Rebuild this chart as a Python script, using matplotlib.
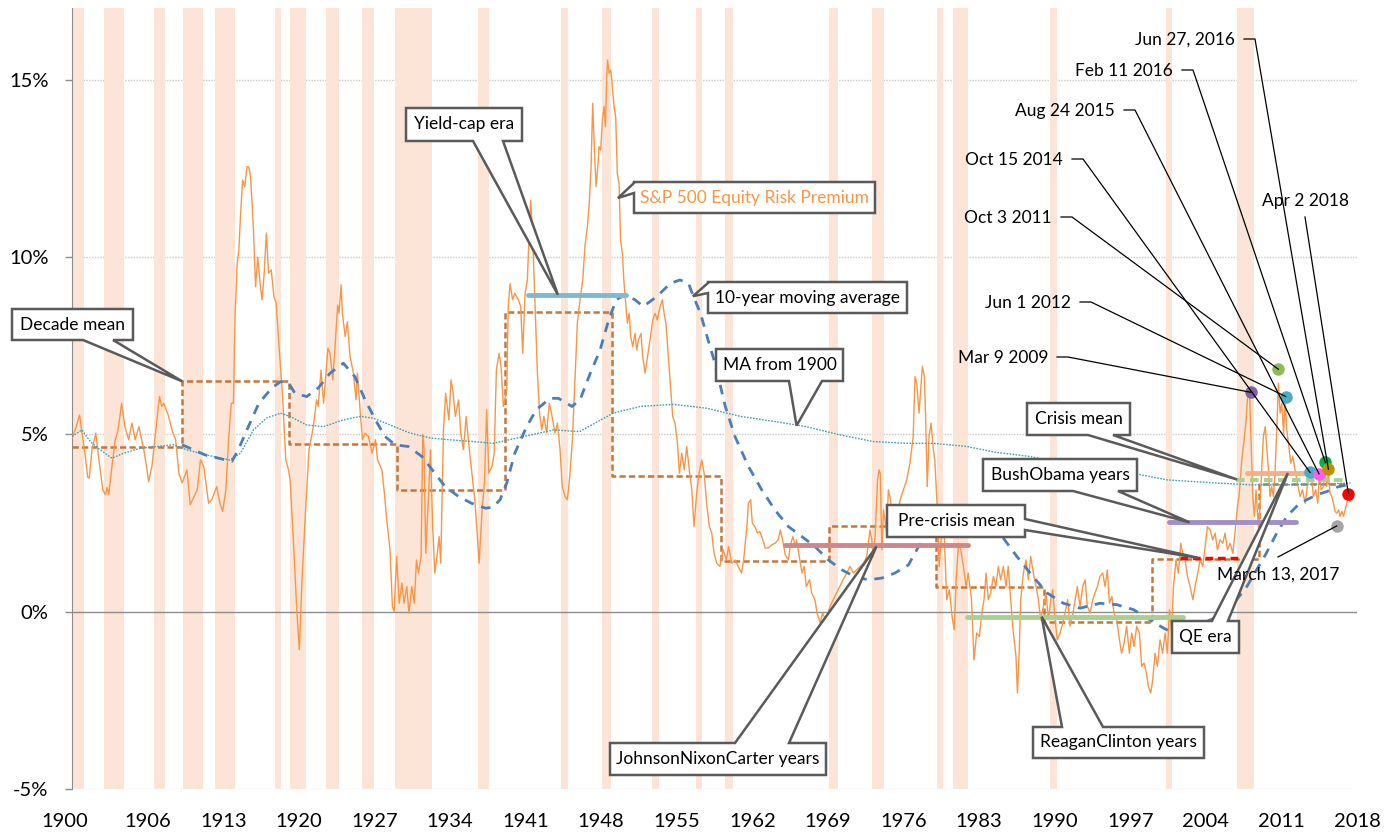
import matplotlib
matplotlib.use('Agg')
import matplotlib.pyplot as plt
from matplotlib.patches import Polygon
from matplotlib.lines import Line2D
from matplotlib.transforms import Affine2D, ScaledTranslation

plt.rcParams['font.family'] = ['Lato', 'DejaVu Sans']

# ---------------- data ----------------
erp_years = [
    1900.0, 1900.4, 1900.7, 1900.9, 1901.2, 1901.45, 1901.6, 1901.85, 1902.2, 1902.5, 1902.85, 1903.1,
    1903.25, 1903.4, 1903.7, 1904.0, 1904.25, 1904.6, 1904.9, 1905.25, 1905.55, 1905.85, 1906.2, 1906.65,
    1906.9, 1907.1, 1907.4, 1907.7, 1908.1, 1908.3, 1908.5, 1908.95, 1909.25, 1909.6, 1909.9, 1910.2,
    1910.65, 1910.95, 1911.3, 1911.6, 1911.9, 1912.2, 1912.65, 1912.95, 1913.4, 1913.7, 1913.95, 1914.25,
    1914.5, 1914.75, 1914.95, 1915.1, 1915.3, 1915.45, 1915.6, 1915.8, 1916.0, 1916.2, 1916.35, 1916.5,
    1916.7, 1916.8, 1917.0, 1917.2, 1917.45, 1917.6, 1917.8, 1918.0, 1918.2, 1918.45, 1918.7, 1918.9,
    1919.05, 1919.3, 1919.5, 1919.8, 1920.05, 1920.2, 1920.5, 1920.8, 1921.05, 1921.3, 1921.65, 1921.95,
    1922.35, 1922.65, 1922.8, 1923.06, 1923.3, 1923.7, 1923.9, 1924.15, 1924.36, 1924.6, 1924.73, 1924.92,
    1925.04, 1925.3, 1925.5, 1925.75, 1926.06, 1926.3, 1926.43, 1926.7, 1926.9, 1927.14, 1927.45, 1927.8,
    1928.1, 1928.3, 1928.7, 1928.93, 1929.15, 1929.45, 1929.67, 1929.83, 1930.07, 1930.3, 1930.55, 1930.75,
    1931.0, 1931.2, 1931.46, 1931.7, 1931.9, 1932.08, 1932.33, 1932.48, 1932.6, 1932.76, 1933.0, 1933.2,
    1933.4, 1933.6, 1933.8, 1934.0, 1934.15, 1934.4, 1934.6, 1934.9, 1935.1, 1935.3, 1935.5, 1935.8,
    1936.0, 1936.25, 1936.5, 1936.7, 1937.0, 1937.3, 1937.5, 1937.7, 1938.0, 1938.2, 1938.4, 1938.6,
    1938.9, 1939.1, 1939.3, 1939.55, 1939.73, 1939.95, 1940.26, 1940.4, 1940.57, 1940.8, 1941.0, 1941.34,
    1941.55, 1941.74, 1941.96, 1942.17, 1942.36, 1942.48, 1942.67, 1942.88, 1943.1, 1943.3, 1943.5, 1943.7,
    1943.96, 1944.2, 1944.4, 1944.73, 1944.95, 1945.2, 1945.4, 1945.66, 1945.88, 1946.12, 1946.34, 1946.6,
    1946.8, 1947.05, 1947.3, 1947.5, 1947.73, 1947.9, 1948.07, 1948.22, 1948.38, 1948.53, 1948.7, 1948.81,
    1948.96, 1949.12, 1949.27, 1949.4, 1949.52, 1949.6, 1949.74, 1949.9, 1950.04, 1950.2, 1950.35, 1950.5,
    1950.66, 1950.8, 1950.97, 1951.1, 1951.28, 1951.43, 1951.6, 1951.74, 1951.93, 1952.14, 1952.3, 1952.45,
    1952.7, 1952.85, 1953.07, 1953.3, 1953.53, 1953.78, 1954.0, 1954.2, 1954.46, 1954.68, 1954.83, 1955.0,
    1955.23, 1955.45, 1955.63, 1955.85, 1956.07, 1956.25, 1956.47, 1956.7, 1956.93, 1957.2, 1957.4, 1957.6,
    1957.85, 1958.07, 1958.32, 1958.54, 1958.8, 1959.03, 1959.25, 1959.46, 1959.7, 1960.0, 1960.3, 1960.6,
    1960.8, 1961.1, 1961.4, 1961.7, 1962.0, 1962.2, 1962.5, 1962.64, 1962.85, 1963.0, 1963.25, 1963.47,
    1963.7, 1963.97, 1964.2, 1964.5, 1964.8, 1965.1, 1965.4, 1965.6, 1965.8, 1966.05, 1966.35, 1966.5,
    1966.75, 1967.0, 1967.1, 1967.4, 1967.6, 1967.8, 1968.0, 1968.3, 1968.5, 1968.8, 1969.0, 1969.3,
    1969.5, 1969.8, 1970.0, 1970.2, 1970.5, 1970.8, 1971.1, 1971.4, 1971.75, 1972.05, 1972.36, 1972.66,
    1972.98, 1973.3, 1973.6, 1973.9, 1974.06, 1974.2, 1974.37, 1974.6, 1974.74, 1974.85, 1975.0, 1975.15,
    1975.45, 1975.6, 1975.8, 1976.07, 1976.4, 1976.7, 1977.0, 1977.3, 1977.6, 1977.9, 1978.07, 1978.23,
    1978.44, 1978.6, 1978.75, 1978.94, 1979.05, 1979.2, 1979.37, 1979.55, 1979.77, 1979.9, 1980.14, 1980.3,
    1980.54, 1980.7, 1980.85, 1981.0, 1981.25, 1981.5, 1981.7, 1981.9, 1982.1, 1982.3, 1982.55, 1982.8,
    1983.0, 1983.3, 1983.53, 1983.78, 1984.03, 1984.25, 1984.46, 1984.65, 1984.86, 1985.08, 1985.33, 1985.55,
    1985.79, 1986.0, 1986.25, 1986.5, 1986.7, 1986.93, 1987.18, 1987.42, 1987.55, 1987.7, 1987.86, 1988.1,
    1988.35, 1988.57, 1988.78, 1989.03, 1989.28, 1989.5, 1989.7, 1989.96, 1990.2, 1990.42, 1990.64, 1990.82,
    1991.04, 1991.25, 1991.5, 1991.75, 1991.96, 1992.2, 1992.43, 1992.7, 1992.9, 1993.1, 1993.35, 1993.6,
    1993.82, 1994.03, 1994.28, 1994.53, 1994.74, 1994.96, 1995.2, 1995.45, 1995.67, 1995.88, 1996.07, 1996.3,
    1996.5, 1996.75, 1997.0, 1997.2, 1997.43, 1997.67, 1997.92, 1998.14, 1998.35, 1998.6, 1998.85, 1999.06,
    1999.28, 1999.5, 1999.68, 1999.9, 2000.08, 2000.3, 2000.52, 2000.76, 2001.0, 2001.23, 2001.44, 2001.63,
    2001.84, 2002.0, 2002.24, 2002.46, 2002.68, 2002.86, 2003.08, 2003.3, 2003.54, 2003.8, 2004.0, 2004.25,
    2004.47, 2004.72, 2004.93, 2005.15, 2005.4, 2005.64, 2005.86, 2006.07, 2006.32, 2006.57, 2006.78, 2007.0,
    2007.25, 2007.5, 2007.7, 2007.93, 2008.1, 2008.33, 2008.55, 2008.73, 2008.85, 2008.94, 2009.04, 2009.16,
    2009.35, 2009.5, 2009.65, 2009.8, 2009.9, 2010.1, 2010.33, 2010.5, 2010.64, 2010.8, 2010.95, 2011.1,
    2011.26, 2011.42, 2011.57, 2011.72, 2011.88, 2012.03, 2012.2, 2012.34, 2012.5, 2012.65, 2012.86, 2013.05,
    2013.27, 2013.48, 2013.73, 2013.95, 2014.2, 2014.4, 2014.66, 2014.8, 2014.96, 2015.18, 2015.37, 2015.52,
    2015.68, 2015.9, 2016.05, 2016.2, 2016.35, 2016.5, 2016.66, 2016.82, 2016.97, 2017.13, 2017.3, 2017.44,
    2017.6, 2017.74, 2017.9, 2018.05, 2018.2, 2018.36, 2018.6,
]
erp_values = [
    4.89, 5.23, 5.55, 5.1, 4.47, 3.8, 3.77, 4.57, 5.04, 4.28, 3.44, 3.3,
    3.5, 3.3, 4.1, 4.85, 5.1, 5.88, 5.22, 4.85, 5.32, 4.85, 5.22, 4.57,
    4.1, 3.67, 4.1, 4.94, 6.07, 5.79, 5.88, 5.51, 5.13, 4.85, 3.91, 3.63,
    4.0, 3.02, 3.25, 3.44, 4.28, 4.1, 3.06, 3.16, 3.53, 3.06, 2.83, 3.44,
    4.85, 5.88, 5.88, 8.33, 9.83, 10.2, 11.14, 12.18, 11.99, 12.55, 12.55, 12.37,
    11.43, 10.77, 9.17, 10.0, 9.17, 8.8, 9.55, 10.68, 9.55, 9.64, 8.89, 8.7,
    8.04, 6.92, 6.07, 4.28, 4.0, 3.72, 2.03, 0.15, -1.07, 0.9, 2.97, 4.57,
    5.22, 5.98, 5.79, 6.82, 5.88, 7.43, 7.29, 6.54, 7.48, 8.65, 8.42, 9.22,
    8.42, 7.76, 8.18, 7.2, 6.73, 5.98, 6.73, 5.6, 4.85, 5.04, 4.94, 4.47,
    4.85, 4.28, 4.0, 3.34, 2.59, 1.75, 0.15, 0.0, 1.56, 0.24, 0.81, 0.24,
    0.71, -0.04, 0.71, 0.24, 1.46, 1.09, 1.56, 5.0, 4.6, 1.65, 3.16, 4.57,
    2.4, 1.09, 1.56, 2.12, 1.37, 5.13, 6.16, 5.41, 6.54, 6.16, 5.51, 5.98,
    5.04, 4.57, 5.51, 4.85, 4.0, 3.16, 2.31, 1.37, 2.97, 3.63, 5.7, 3.91,
    4.1, 4.47, 6.82, 7.29, 6.92, 5.79, 6.26, 8.61, 9.26, 8.8, 8.98, 8.8,
    8.61, 7.29, 8.98, 9.36, 10.86, 11.61, 10.49, 8.61, 6.73, 5.6, 5.13, 5.51,
    5.04, 5.88, 5.6, 5.04, 5.32, 4.57, 3.53, 3.25, 3.16, 3.91, 4.85, 6.73,
    8.14, 8.8, 9.36, 10.3, 10.86, 11.52, 12.55, 14.34, 13.02, 11.99, 12.55, 13.12,
    13.02, 13.87, 14.25, 13.68, 15.09, 15.56, 15.19, 15.28, 14.81, 14.25, 13.96, 12.37,
    12.08, 10.49, 10.11, 9.36, 8.7, 8.14, 8.42, 7.76, 7.48, 7.85, 7.38, 7.67,
    7.85, 7.2, 6.73, 7.2, 7.67, 8.23, 8.42, 8.23, 8.61, 8.8, 8.42, 8.14,
    7.2, 6.26, 5.51, 5.32, 4.75, 3.91, 4.47, 4.0, 4.66, 3.91, 3.44, 2.4,
    3.34, 3.91, 4.28, 3.91, 2.97, 2.4, 2.21, 1.65, 1.37, 1.28, 1.75, 1.46,
    1.84, 1.37, 1.46, 1.28, 1.09, 1.46, 2.4, 3.06, 3.16, 2.5, 2.4, 2.22,
    2.26, 2.03, 1.8, 1.8, 1.89, 1.93, 2.03, 2.31, 2.03, 1.61, 1.46, 1.84,
    2.12, 1.84, 2.03, 1.46, 1.09, 1.28, 0.71, 0.9, 0.53, 0.34, -0.04, -0.32,
    -0.04, -0.23, -0.04, 0.15, 0.34, 0.53, 0.71, 0.9, 1.09, 1.28, 1.09, 1.18,
    1.28, 1.37, 1.56, 2.31, 2.03, 1.56, 2.12, 3.72, 4.0, 3.9, 1.75, 2.87,
    2.22, 3.44, 3.16, 2.22, 2.69, 3.16, 3.44, 3.72, 4.19, 4.94, 6.63, 6.45,
    5.6, 6.26, 6.92, 6.63, 5.51, 3.53, 4.94, 5.32, 4.57, 4.28, 2.87, 1.28,
    2.22, 2.87, 1.56, 0.34, 0.62, -0.13, -0.51, 1.0, 1.93, 1.75, 1.28, 0.71,
    1.09, 0.34, -1.36, -0.6, -0.7, -0.04, 0.34, 1.09, 0.34, 0.53, 1.0, 0.71,
    1.28, 0.9, 1.28, 0.71, 1.28, 0.34, -0.6, -1.26, -2.29, -1.26, 0.34, 1.09,
    1.46, 0.9, 1.56, 1.09, 0.71, 0.34, -0.23, 0.15, 0.53, -0.23, 0.34, 0.62,
    -0.23, -0.79, -0.6, -0.32, -0.04, 0.34, -0.41, -0.04, 0.34, 0.71, 0.15, 0.71,
    0.9, 0.15, -0.04, 0.34, 0.53, 0.71, 1.0, 1.09, 0.71, 1.18, 0.24, 0.43,
    -0.04, -0.23, -0.79, -1.17, -0.88, -0.41, -1.17, -0.6, -0.98, -0.41, -0.6, -1.54,
    -1.45, -1.73, -2.11, -2.29, -1.92, -1.17, -1.54, -0.79, -1.17, -0.6, -1.17, 0.06,
    -0.6, 0.71, 1.46, 1.09, 1.93, 1.65, 1.46, 1.0, 0.71, 0.34, 0.71, 1.09,
    1.46, 1.28, 1.84, 2.4, 2.31, 2.03, 2.22, 1.75, 2.03, 1.93, 2.22, 1.75,
    1.93, 1.65, 2.22, 2.97, 3.34, 4.28, 4.85, 5.41, 5.98, 6.16, 6.26, 5.13,
    3.25, 2.69, 3.44, 2.69, 2.31, 3.53, 4.94, 5.22, 4.66, 4.0, 3.25, 3.53,
    3.25, 4.0, 5.13, 6.45, 5.6, 5.88, 5.03, 5.98, 5.13, 4.75, 4.19, 4.38,
    4.0, 3.63, 3.25, 3.44, 3.06, 3.53, 4.0, 3.81, 3.25, 3.44, 3.06, 3.91,
    3.44, 3.53, 4.0, 3.53, 3.91, 3.34, 3.25, 3.06, 2.83, 2.78, 2.87, 2.69,
    2.83, 2.69, 2.87, 3.06, 3.25, 3.11, 3.2,
]

ma10_years = [
    1910.2, 1912.35, 1914.8, 1915.4, 1916.2, 1917.3, 1918.5, 1919.3, 1920.07, 1920.65, 1921.74, 1922.8,
    1923.9, 1925.13, 1926.2, 1927.14, 1928.1, 1929.0, 1929.92, 1931.15, 1932.4, 1933.6, 1934.55, 1935.8,
    1937.0, 1938.3, 1939.0, 1939.64, 1940.26, 1941.0, 1942.1, 1943.0, 1944.27, 1945.04, 1946.3, 1947.05,
    1948.0, 1948.9, 1949.7, 1950.4, 1951.2, 1952.14, 1952.9, 1954.15, 1955.4, 1956.3, 1957.1, 1957.55,
    1958.2, 1958.9, 1959.55, 1960.5, 1961.4, 1962.64, 1963.87, 1965.1, 1966.35, 1967.6, 1968.8, 1970.05,
    1971.3, 1972.5, 1973.75, 1975.0, 1976.2, 1977.46, 1978.4, 1979.5, 1980.6, 1981.8, 1983.2, 1984.6,
    1985.9, 1987.5, 1989.0, 1990.3, 1991.8, 1993.35, 1995.2, 1996.75, 1998.3, 1999.84, 2001.07, 2002.0,
    2003.23, 2005.4, 2006.9, 2007.85, 2008.8, 2009.7, 2010.6, 2011.57, 2012.5, 2013.4, 2014.35, 2015.3,
    2016.2, 2017.1, 2018.05,
]
ma10_values = [
    4.71, 4.42, 4.24, 4.57, 5.13, 5.88, 6.31, 6.49, 6.45, 6.16, 6.07, 6.31,
    6.73, 7.01, 6.63, 5.98, 5.41, 4.94, 4.71, 4.66, 4.38, 3.91, 3.53, 3.25,
    3.06, 2.92, 2.95, 3.16, 3.63, 4.47, 5.22, 5.7, 6.02, 6.02, 5.79, 5.98,
    6.73, 7.38, 8.23, 8.8, 8.94, 8.8, 8.61, 8.89, 9.26, 9.36, 9.26, 8.89,
    8.42, 7.67, 7.0, 5.79, 4.94, 4.1, 3.44, 2.87, 2.4, 2.12, 1.84, 1.46,
    1.18, 0.99, 0.9, 0.95, 1.09, 1.32, 1.84, 2.3, 2.5, 2.55, 2.5, 2.4,
    2.22, 1.56, 0.99, 0.53, 0.24, 0.1, 0.24, 0.2, 0.06, -0.23, -0.46, -0.6,
    -0.51, -0.23, -0.04, 0.34, 0.71, 1.18, 1.65, 2.22, 2.69, 2.97, 3.16, 3.3,
    3.39, 3.51, 3.58,
]

ma1900_years = [
    1900.0, 1900.9, 1901.7, 1902.6, 1903.7, 1904.75, 1906.3, 1907.84, 1909.4, 1910.6, 1912.5, 1914.6,
    1915.6, 1916.8, 1918.0, 1919.3, 1920.2, 1921.7, 1923.3, 1925.1, 1926.7, 1927.9, 1929.45, 1931.3,
    1933.2, 1935.0, 1937.2, 1939.0, 1941.8, 1944.6, 1947.0, 1950.1, 1952.6, 1955.7, 1958.8, 1961.9,
    1965.0, 1968.0, 1971.1, 1974.2, 1977.3, 1979.8, 1982.9, 1985.5, 1988.7, 1991.5, 1994.5, 1998.7,
    2001.4, 2006.0, 2009.1, 2012.2, 2015.3, 2018.4,
]
ma1900_values = [
    4.94, 5.13, 4.8, 4.57, 4.33, 4.47, 4.61, 4.66, 4.71, 4.57, 4.42, 4.28,
    4.47, 5.13, 5.46, 5.6, 5.51, 5.27, 5.22, 5.41, 5.51, 5.46, 5.27, 5.04,
    4.9, 4.85, 4.8, 4.75, 4.94, 5.13, 5.08, 5.6, 5.79, 5.85, 5.74, 5.51,
    5.37, 5.22, 4.99, 4.8, 4.75, 4.75, 4.66, 4.5, 4.38, 4.2, 4.05, 3.88,
    3.72, 3.63, 3.58, 3.58, 3.6, 3.63,
]

decade_edges = [1900, 1910.2, 1920.1, 1930.1, 1940.1, 1950.0, 1960.1, 1970.1, 1980.0, 1990.0, 2000.0, 2009.9, 2018.2]
decade_means = [4.65, 6.5, 4.74, 3.42, 8.46, 3.84, 1.42, 2.43, 0.71, -0.3, 1.5, 3.6]

recession_start = [1899.5, 1903.0, 1907.6, 1910.3, 1913.2, 1918.8, 1920.2, 1923.5, 1926.9, 1929.9, 1937.6, 1945.3,
                   1949.1, 1953.7, 1957.8, 1960.5, 1970.1, 1974.1, 1980.1, 1981.6, 1990.6, 2001.3, 2007.9]
recession_end = [1901.1, 1904.8, 1908.6, 1912.1, 1915.1, 1919.4, 1921.7, 1924.7, 1928.0, 1933.3, 1938.6, 1945.9,
                 1949.9, 1954.4, 1958.3, 1961.2, 1970.9, 1975.2, 1980.7, 1983.0, 1991.2, 2001.9, 2009.5]

period_names = ['Yield-cap era', 'JohnsonNixonCarter years', 'ReaganClinton years', 'Pre-crisis mean',
                'BushObama years', 'QE era', 'Crisis mean']
period_start = [1942.2, 1966.0, 1982.9, 2002.6, 2001.6, 2008.8, 2007.8]
period_end = [1951.3, 1983.0, 2002.9, 2008.1, 2013.35, 2014.4, 2018.2]
period_value = [8.94, 1.89, -0.14, 1.52, 2.52, 3.91, 3.73]

event_labels = ['Mar 9 2009', 'Oct 3 2011', 'Jun 1 2012', 'Oct 15 2014', 'Aug 24 2015',
                'Feb 11 2016', 'Jun 27, 2016', 'March 13, 2017', 'Apr 2 2018']
event_years = [2009.16, 2011.72, 2012.4, 2014.65, 2015.48, 2016.07, 2016.35, 2017.12, 2018.2]
event_values = [6.19, 6.84, 6.07, 3.93, 3.89, 4.21, 4.02, 2.42, 3.33]

x_ticks = [1900 + 7 * k for k in range(18)]
x_tick_labels = ['1900', '1906', '1913', '1920', '1927', '1934', '1941', '1948', '1955', '1962',
                 '1969', '1976', '1983', '1990', '1997', '2004', '2011', '2018']
y_ticks = [-5, 0, 5, 10, 15]
y_tick_labels = ['-5%', '0%', '5%', '10%', '15%']

# ---------------- styles ----------------
period_colors = ['#7DBAD2', '#D0868A', '#A9D08E', '#FF0000', '#A190C4', '#F6B088', '#A9D08E']
period_styles = ['-', '-', '-', (0, (2.2, 1.4)), '-', '-', (0, (2.2, 1.4))]
period_lw = [3.5, 3.5, 3.5, 2.5, 3.5, 3.5, 2.8]
event_colors = ['#7F62A0', '#92B957', '#4BACC6', '#4BACC6', '#FF5CF5', '#00B050', '#BF9000', '#A5A5A5', '#FF0000']

W, H = 1398, 833
fig = plt.figure(figsize=(W / 100, H / 100), dpi=100)
ax = fig.add_axes([72 / W, 1 - 789 / H, (1357 - 72) / W, (789 - 8) / H])
ax.set_xlim(1900, 2019)
ax.set_ylim(-5, 17.03)

for s, e in zip(recession_start, recession_end):
    ax.axvspan(s, e, color='#FCE5D6', lw=0, zorder=0.5)

for v in [-5, 5, 10, 15]:
    ax.axhline(v, color='#C8C8C8', lw=1.0, ls=(0, (1, 1)), zorder=0.2)
ax.axhline(0, color='#8C8C8C', lw=1.0, zorder=1)

ax.step(decade_edges, decade_means + [decade_means[-1]], where='post', color='#C4773A',
        lw=1.8, ls=(0, (2.5, 1.3)), zorder=2)
ax.plot(erp_years, erp_values, color='#F79646', lw=1.0, zorder=3)
ax.plot(ma1900_years, ma1900_values, color='#3F9FB5', lw=1.0, ls=(0, (1.2, 1.0)), zorder=3.5)
ax.plot(ma10_years, ma10_values, color='#4A7EBB', lw=2.0, ls=(0, (3.5, 2.8)), zorder=4)

for s, e, v, c, st, lw in zip(period_start, period_end, period_value, period_colors, period_styles, period_lw):
    ax.plot([s, e], [v, v], color=c, lw=lw, ls=st, solid_capstyle='round', zorder=5)

for x, y, c in zip(event_years, event_values, event_colors):
    ax.plot([x], [y], 'o', color=c, ms=9, mec='none', zorder=6)

for sp in ['top', 'right', 'bottom']:
    ax.spines[sp].set_visible(False)
ax.spines['left'].set_color('#8C8C8C')
ax.set_xticks(x_ticks)
ax.set_xticklabels(x_tick_labels, fontsize=14.5)
ax.set_yticks(y_ticks)
ax.set_yticklabels(y_tick_labels, fontsize=14.5)
ax.tick_params(axis='x', length=0, pad=17)
ax.tick_params(axis='y', length=5, width=1, color='#8C8C8C', pad=12)
first = ax.get_xticklabels()[0]
first.set_transform(first.get_transform() + ScaledTranslation(-7 / 100, 0, fig.dpi_scale_trans))

# ---------------- annotations ----------------
pix = Affine2D().scale(1, -1).translate(0, H)


def to_px(x, y):
    dx, dy = ax.transData.transform((x, y))
    return dx, H - dy


def callout(text, box, side, base, tip, color='black', fs=12.5):
    x0, y0, x1, y1 = box
    tx, ty = to_px(*tip)
    b0, b1 = base
    if side == 'bottom':
        pts = [(x0, y0), (x1, y0), (x1, y1), (b1, y1), (tx, ty), (b0, y1), (x0, y1)]
    elif side == 'top':
        pts = [(x0, y0), (b0, y0), (tx, ty), (b1, y0), (x1, y0), (x1, y1), (x0, y1)]
    elif side == 'left':
        pts = [(x0, y0), (x1, y0), (x1, y1), (x0, y1), (x0, b1), (tx, ty), (x0, b0)]
    else:
        pts = [(x0, y0), (x1, y0), (x1, b0), (tx, ty), (x1, b1), (x1, y1), (x0, y1)]
    fig.add_artist(Polygon(pts, closed=True, transform=pix, facecolor='white',
                           edgecolor='#5A5A5A', lw=1.8, joinstyle='miter', zorder=20))
    fig.text((x0 + x1) / 2 / W, 1 - (y0 + y1) / 2 / H, text, ha='center', va='center',
             fontsize=fs, color=color, zorder=21)


callout('Decade mean', (12, 309, 133, 340), 'bottom', (83, 113), (decade_edges[1], decade_means[1]))
callout('Yield-cap era', (406, 108, 522, 141), 'bottom', (473, 503), (1945.0, period_value[0]))
callout('S&P 500 Equity Risk Premium', (634, 182, 875, 213), 'left', (183, 193), (1950.56, 11.67),
        color='#F79646')
callout('10-year moving average', (708, 282, 907, 313), 'left', (283, 293), (1957.5, 8.9))
callout('MA from 1900', (716, 349, 843, 381), 'bottom', (789, 822), (1967.1, 5.25))
callout('JohnsonNixonCarter years', (610, 743, 826, 775), 'top', (735, 789), (1974.5, period_value[1] - 0.05))
callout('ReaganClinton years', (1033, 727, 1204, 758), 'top', (1062, 1103), (1989.8, period_value[2]))
callout('Pre-crisis mean', (887, 505, 1025, 537), 'right', (519, 530), (2004.3, period_value[3]))
callout('BushObama years', (983, 459, 1137, 491), 'bottom', (1073, 1118), (2003.5, period_value[4]))
callout('Crisis mean', (1027, 403, 1130, 435), 'bottom', (1088, 1113), (2007.9, period_value[6]))
callout('QE era', (1172, 621, 1239, 653), 'top', (1212, 1228), (2012.6, period_value[5]))

# date labels with leader lines (right edge x, centre y in pixels)
label_pos = {
    'Mar 9 2009': (1048, 358),
    'Oct 3 2011': (1052, 218),
    'Jun 1 2012': (1071, 303),
    'Oct 15 2014': (1063, 160),
    'Aug 24 2015': (1115, 111),
    'Feb 11 2016': (1173, 71),
    'Jun 27, 2016': (1235, 40),
}
for lab, x, y in zip(event_labels, event_years, event_values):
    dx, dy = to_px(x, y)
    if lab in label_pos:
        rx, ry = label_pos[lab]
        fig.text(rx / W, 1 - ry / H, lab, ha='right', va='center', fontsize=12.5, zorder=21)
        fig.add_artist(Line2D([rx + 9, rx + 20, dx], [ry - 1, ry - 1, dy], transform=pix,
                              color='black', lw=0.9, zorder=19))
    elif lab == 'Apr 2 2018':
        fig.text(1305 / W, 1 - 201 / H, lab, ha='center', va='center', fontsize=12.5, zorder=21)
        fig.add_artist(Line2D([1305, dx], [217, dy], transform=pix, color='black', lw=0.9, zorder=19))
    else:
        fig.text(1278 / W, 1 - 575 / H, lab, ha='center', va='center', fontsize=12.5, zorder=21)
        fig.add_artist(Line2D([1278, dx], [557, dy], transform=pix, color='black', lw=0.9, zorder=19))

fig.savefig('out.png', dpi=100)
